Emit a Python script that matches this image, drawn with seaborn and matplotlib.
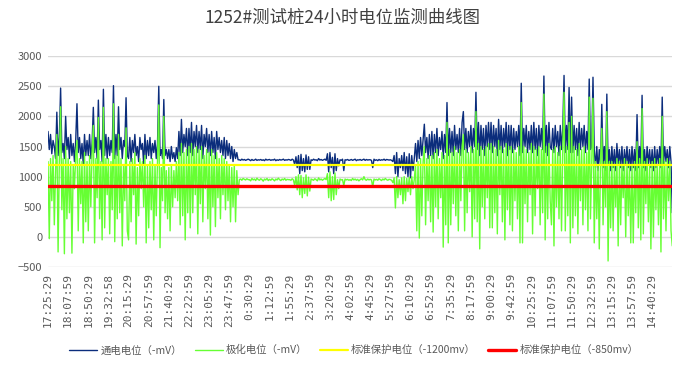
import numpy as np
import pandas as pd
import matplotlib
matplotlib.use("Agg")
import matplotlib.pyplot as plt
import seaborn as sns

# 时间标签 (每16个采样点一个标签)
time_labels = ["17:25:29", "18:07:59", "18:50:29", "19:32:58", "20:15:29", "20:57:59",
               "21:40:29", "22:22:59", "23:05:29", "23:47:59", "0:30:29", "1:12:59",
               "1:55:29", "2:37:59", "3:20:29", "4:02:59", "4:45:29", "5:27:59",
               "6:10:29", "6:52:59", "7:35:29", "8:17:59", "9:00:29", "9:42:59",
               "10:25:29", "11:07:59", "11:50:29", "12:32:59", "13:15:29", "13:57:59",
               "14:40:29"]
step = 16

# 通电电位 (-mV) —— 傍晚/夜间/白天三段
on_evening = [
    1750, 1450, 1700, 1380, 1600, 1500, 1300, 2070, 1350, 1650, 2470, 1400, 1550, 1300, 2000, 1450,
    1650, 1300, 1700, 1350, 1550, 1250, 1600, 2210, 1400, 1650, 1300, 1550, 1200, 1700, 1350, 1600,
    1350, 1700, 1300, 1550, 2150, 1400, 1650, 1300, 2270, 1450, 1600, 1250, 2450, 1350, 1700, 1300,
    1650, 1350, 1600, 1400, 2510, 1300, 1700, 1350, 2160, 1450, 1650, 1300, 1600, 1500, 2310, 1350,
    1300, 1650, 1250, 1600, 1400, 1700, 1350, 1500, 1250, 1650, 1450, 1550, 1200, 1700, 1300, 1600,
    1350, 1650, 1300, 1550, 1400, 1600, 1300, 1550, 2500, 1350, 1450, 1300, 2280, 1350, 1450, 1300,
    1450, 1250, 1500, 1300, 1400, 1250, 1480, 1300, 1750, 1350, 1950, 1400, 1700, 1500, 1800, 1350,
    1800, 1400, 1900, 1350, 1750, 1500, 1850, 1400, 1750, 1450, 1850, 1300, 1700, 1500, 1800, 1400,
    1700, 1350, 1750, 1400, 1650, 1300, 1750, 1450, 1650, 1400, 1600, 1350, 1650, 1300, 1600, 1350,
    1550, 1300, 1500, 1250, 1450, 1300, 1400, 1280]
on_night = [
    1280, 1270, 1290, 1275, 1285, 1270, 1280, 1290,
    1280, 1265, 1285, 1270, 1275, 1290, 1270, 1280, 1275, 1285, 1270, 1280, 1265, 1290, 1275, 1280,
    1285, 1270, 1280, 1275, 1290, 1265, 1280, 1270, 1285, 1275, 1280, 1290, 1270, 1280, 1275, 1285,
    1280, 1270, 1290, 1275, 1200, 1330, 1150, 1350, 1050, 1370, 1100, 1300, 1080, 1360, 1120, 1330,
    1120, 1280, 1270, 1290, 1275, 1280, 1265, 1300, 1275, 1285, 1270, 1280, 1290, 1270, 1380, 1080,
    1400, 1150, 1320, 1050, 1380, 1100, 1300, 1180, 1280, 1270, 1290, 1100, 1280, 1275, 1285, 1270,
    1275, 1285, 1270, 1280, 1290, 1265, 1280, 1275, 1285, 1270, 1280, 1290, 1270, 1285, 1275, 1280,
    1280, 1270, 1150, 1290, 1270, 1280, 1265, 1285, 1270, 1280, 1275, 1290, 1270, 1285, 1280, 1275,
    1280, 1270, 1250, 1350, 1050, 1400, 1000, 1300, 1150, 1350, 1100, 1400, 1050, 1330, 1000, 1380,
    980, 1350, 1100, 1300]
on_day = [
    1550, 1250, 1600, 1300, 1650, 1350, 1600, 1870, 1400, 1650, 1300, 1700,
    1350, 1750, 1300, 1700, 1400, 1800, 1350, 1650, 1450, 1750, 1300, 1700, 1400, 2230, 1350, 1800,
    1400, 1750, 1350, 1850, 1450, 1700, 1400, 1800, 1350, 1900, 2080, 1450, 1800, 1400, 1750, 1500,
    1850, 1400, 1800, 1500, 2400, 1450, 1900, 1350, 1850, 1450, 1800, 1350, 1850, 1500, 1900, 1450,
    1900, 1400, 1850, 1500, 1800, 1350, 1950, 1450, 1850, 1400, 1800, 1500, 1900, 1350, 1850, 1450,
    1850, 1400, 1800, 1450, 1750, 1500, 1850, 1350, 2550, 1400, 1800, 1500, 1850, 1400, 1750, 1450,
    1850, 1400, 1900, 1450, 1800, 1350, 1850, 1500, 1800, 1450, 2670, 1400, 1850, 1350, 1900, 1500,
    1450, 1800, 1400, 1850, 1500, 1750, 1350, 1850, 1450, 1800, 2680, 1400, 1850, 1450, 2480, 1400,
    2320, 1400, 1850, 1450, 1800, 1350, 1900, 1450, 1800, 1500, 1850, 1400, 1750, 1450, 2620, 1450,
    1500, 2650, 1450, 1150, 1500, 1100, 1450, 1200, 2200, 1150, 1500, 1100, 2370, 1200, 1450, 1100,
    1500, 1150, 1450, 1100, 1550, 1200, 1450, 1150, 1500, 1100, 1450, 1200, 1500, 1150, 1450, 1100,
    1500, 1150, 1450, 1100, 2030, 1150, 1500, 1200, 2350, 1150, 1450, 1100, 1500, 1200, 1450, 1150,
    1450, 1100, 1500, 1150, 1450, 1200, 1500, 1150, 2320, 1200, 1500, 1250, 1450, 1150, 1500, 1250,
    400]

# 极化电位 (-mV)
off_evening = [
    1250, -30, 1300, 600, 1350, 200, 1100, 1700, -250, 1250, 2160, 450, 1300, -280, 1500, 300,
    1300, 400, 1250, -270, 1200, 800, 1350, 1600, 100, 1300, 550, 1250, -100, 1400, 250, 1250,
    100, 1350, 500, 1400, 1850, -100, 1300, 650, 1980, 300, 1250, -50, 2150, 150, 1300, 700,
    1300, 50, 1250, 450, 2210, -80, 1350, 300, 1700, 400, 1300, -150, 1200, 600, 1810, 100,
    -50, 1250, 250, 1300, 700, 1400, -120, 1150, 350, 1300, 800, 1250, 500, 1350, -100, 1200,
    150, 1250, 450, 1300, -50, 1200, 350, 1300, 2190, -180, 1150, 600, 2000, 400, 1100, 300,
    1150, 100, 1200, 500, 1100, 650, 1250, 600, 1400, 200, 1550, 350, 1400, -50, 1450, 400,
    1500, 150, 1550, 400, 1450, 700, 1500, 50, 1450, 550, 1500, 250, 1350, 800, 1450, 300,
    1400, 30, 1450, 500, 1350, 170, 1400, 650, 1300, 300, 1350, 700, 1300, 450, 1250, 600,
    1200, 250, 1150, 500, 1200, 250, 1100, 700]
off_night = [
    950, 960, 940, 970, 955, 945, 965, 950,
    950, 930, 970, 945, 960, 935, 975, 950, 940, 965, 950, 925, 960, 945, 970, 935,
    955, 940, 965, 950, 930, 960, 945, 975, 950, 935, 960, 945, 970, 940, 955, 950,
    950, 940, 965, 945, 850, 1000, 780, 1030, 700, 1020, 650, 980, 720, 1030, 680, 990,
    760, 960, 950, 940, 965, 950, 930, 980, 945, 960, 940, 955, 970, 950, 1050, 650,
    1080, 600, 1000, 620, 1060, 700, 950, 800, 960, 945, 950, 850, 960, 945, 955, 940,
    950, 935, 970, 945, 960, 940, 955, 930, 950, 965, 945, 1000, 950, 940, 960, 945,
    955, 945, 830, 960, 945, 955, 940, 965, 950, 935, 960, 945, 970, 950, 940, 955,
    950, 940, 900, 980, 480, 1000, 650, 950, 700, 980, 550, 1000, 600, 970, 750, 990,
    700, 1000, 800, 950]
off_day = [
    1200, 100, 1250, -20, 1300, 350, 1250, 1500, 200, 1300, 600, 1350,
    250, 1350, 80, 1400, 500, 1450, 300, 1300, 650, 1400, -170, 1350, 200, 1900, -100, 1450,
    200, 1400, 550, 1500, 350, 1400, 100, 1450, 600, 1500, 1700, 100, 1450, 400, 1400, 750,
    1500, 0, 1450, 300, 2080, 250, 1550, -200, 1500, 500, 1450, 300, 1500, 650, 1550, 150,
    1550, 150, 1500, 400, 1450, 50, 1600, 700, 1500, 250, 1450, -50, 1550, 450, 1500, 200,
    1500, 100, 1450, 600, 1400, 300, 1500, -100, 2230, -100, 1500, 550, 1450, 250, 1400, 700,
    1550, 50, 1500, 350, 1450, 800, 1500, 200, 1450, 400, 2370, -50, 1500, 300, 1550, 600,
    200, 1450, -150, 1500, 500, 1400, 300, 1500, 100, 1450, 2400, 100, 1500, 350, 1900, -100,
    2000, 150, 1500, 350, 1450, 50, 1550, 600, 1450, 200, 1500, 450, 1400, 100, 2320, 300,
    1250, 2300, -100, 1250, 300, 1200, -200, 1300, 1800, 200, 1250, 500, 2080, -400, 1250, 150,
    1250, 100, 1200, 500, 1300, -150, 1250, 200, 1200, 650, 1300, 0, 1250, 350, 1200, -100,
    1200, -100, 1250, 400, 1580, 150, 1300, -50, 2130, 50, 1250, 550, 1300, 250, 1200, -200,
    1250, 0, 1300, 450, 1200, 200, 1300, -250, 2000, 300, 1250, 100, 1300, 600, 1250, 100,
    -150]

std_1200 = 1200   # 标准保护电位
std_850 = 850

on_vals = on_evening + on_night + on_day
off_vals = off_evening + off_night + off_day
df = pd.DataFrame({"idx": np.arange(len(on_vals)), "on": on_vals, "off": off_vals})

sns.set_theme(style="white")
plt.rcParams['font.family'] = ['Noto Sans CJK SC', 'DejaVu Sans']

fig = plt.figure(figsize=(6.86, 3.67), dpi=100)
ax = fig.add_axes([0.070, 0.2725, 0.910, 0.5745])

sns.lineplot(data=df, x="idx", y="on", ax=ax, color="#0b2d7c", lw=1.0, label="通电电位（-mV）")
sns.lineplot(data=df, x="idx", y="off", ax=ax, color="#66ff33", lw=1.0, label="极化电位（-mV）")
ax.axhline(std_1200, color="#ffff00", lw=1.6, label="标准保护电位（-1200mv）")
ax.axhline(std_850, color="#ff0000", lw=2.4, label="标准保护电位（-850mv）")

ax.set_xlim(0, len(on_vals) - 1)
ax.set_ylim(-500, 3000)
ax.set_yticks(np.arange(-500, 3001, 500))
ax.set_xticks(np.arange(0, len(time_labels) * step, step))
ax.set_xticklabels(time_labels, rotation=90, family="DejaVu Sans Mono", fontsize=8, color="#595959")
ax.tick_params(axis="y", labelsize=8, labelcolor="#595959", length=0, pad=4)
ax.tick_params(axis="x", length=0, pad=4)
ax.yaxis.grid(True, color="#d9d9d9", lw=1)
ax.xaxis.grid(False)
for s in ax.spines.values():
    s.set_visible(False)
ax.set_xlabel("")
ax.set_ylabel("")

ax.legend(loc="center", bbox_to_anchor=(0.49, -0.395), ncol=4, frameon=False,
          fontsize=7.5, handlelength=2.7, columnspacing=1.2, handletextpad=0.3)
for t in ax.get_legend().get_texts():
    t.set_color("#595959")

fig.suptitle("1252#测试桩24小时电位监测曲线图", fontsize=12.5, color="#404040", y=0.975)

fig.savefig("out.png", dpi=100)
